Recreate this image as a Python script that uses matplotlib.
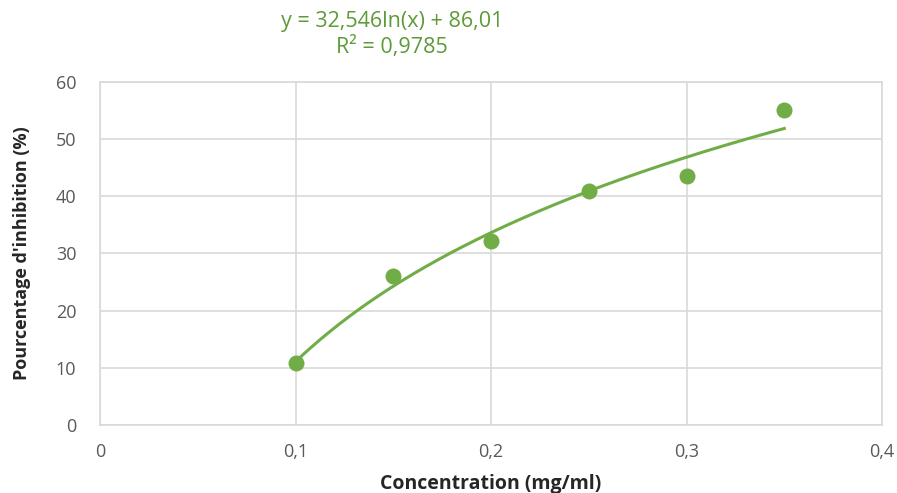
import matplotlib
matplotlib.use('Agg')
import matplotlib.pyplot as plt
import numpy as np

plt.rcParams['font.family'] = ['Open Sans', 'DejaVu Sans']

# ---- data ----
conc = [0.1, 0.15, 0.2, 0.25, 0.3, 0.35]
inhib = [10.8, 26.0, 32.2, 40.9, 43.5, 55.1]
# logarithmic trendline shown on the chart: y = a*ln(x) + b
trend_a = 32.546
trend_b = 86.01
eq_text = 'y = 32,546ln(x) + 86,01'
r2_text = 'R² = 0,9785'
xticks = [0, 0.1, 0.2, 0.3, 0.4]
xtick_labels = ['0', '0,1', '0,2', '0,3', '0,4']
yticks = [0, 10, 20, 30, 40, 50, 60]

green = '#70AD47'
grid_c = '#D9D9D9'
tick_c = '#595959'

fig = plt.figure(figsize=(8.97, 4.93), dpi=100)
ax = fig.add_axes([0.1115, 0.138, 0.8718, 0.696])

xt = np.linspace(min(conc), max(conc), 200)
ax.plot(xt, trend_a * np.log(xt) + trend_b, color=green, lw=2.2, zorder=3)
ax.plot(conc, inhib, linestyle=' ', marker='o', ms=11.5, mew=0,
        color=green, zorder=4)

ax.set_xlim(0, 0.4)
ax.set_ylim(0, 60)
ax.set_xticks(xticks)
ax.set_xticklabels(xtick_labels)
ax.set_yticks(yticks)
ax.grid(True, color=grid_c, lw=1.2)
ax.set_axisbelow(True)
for s in ax.spines.values():
  s.set_color(grid_c)
  s.set_linewidth(1.2)
ax.tick_params(length=0, colors=tick_c, labelsize=13)
ax.tick_params(axis='x', pad=13)
ax.tick_params(axis='y', pad=17)

ax.set_xlabel('Concentration (mg/ml)', fontsize=14, fontweight='bold',
              color='#262626', labelpad=9)
ax.set_ylabel("Pourcentage d'inhibition (%)", fontsize=13, fontweight='bold',
              color='#262626', labelpad=18)

fig.text(392 / 897, 1 - 22 / 493, eq_text, ha='center', va='center',
         color='#5E9A38', fontsize=15.5)
fig.text(392 / 897, 1 - 47 / 493, r2_text, ha='center', va='center',
         color='#5E9A38', fontsize=15.5)

plt.savefig('out.png', dpi=100)
